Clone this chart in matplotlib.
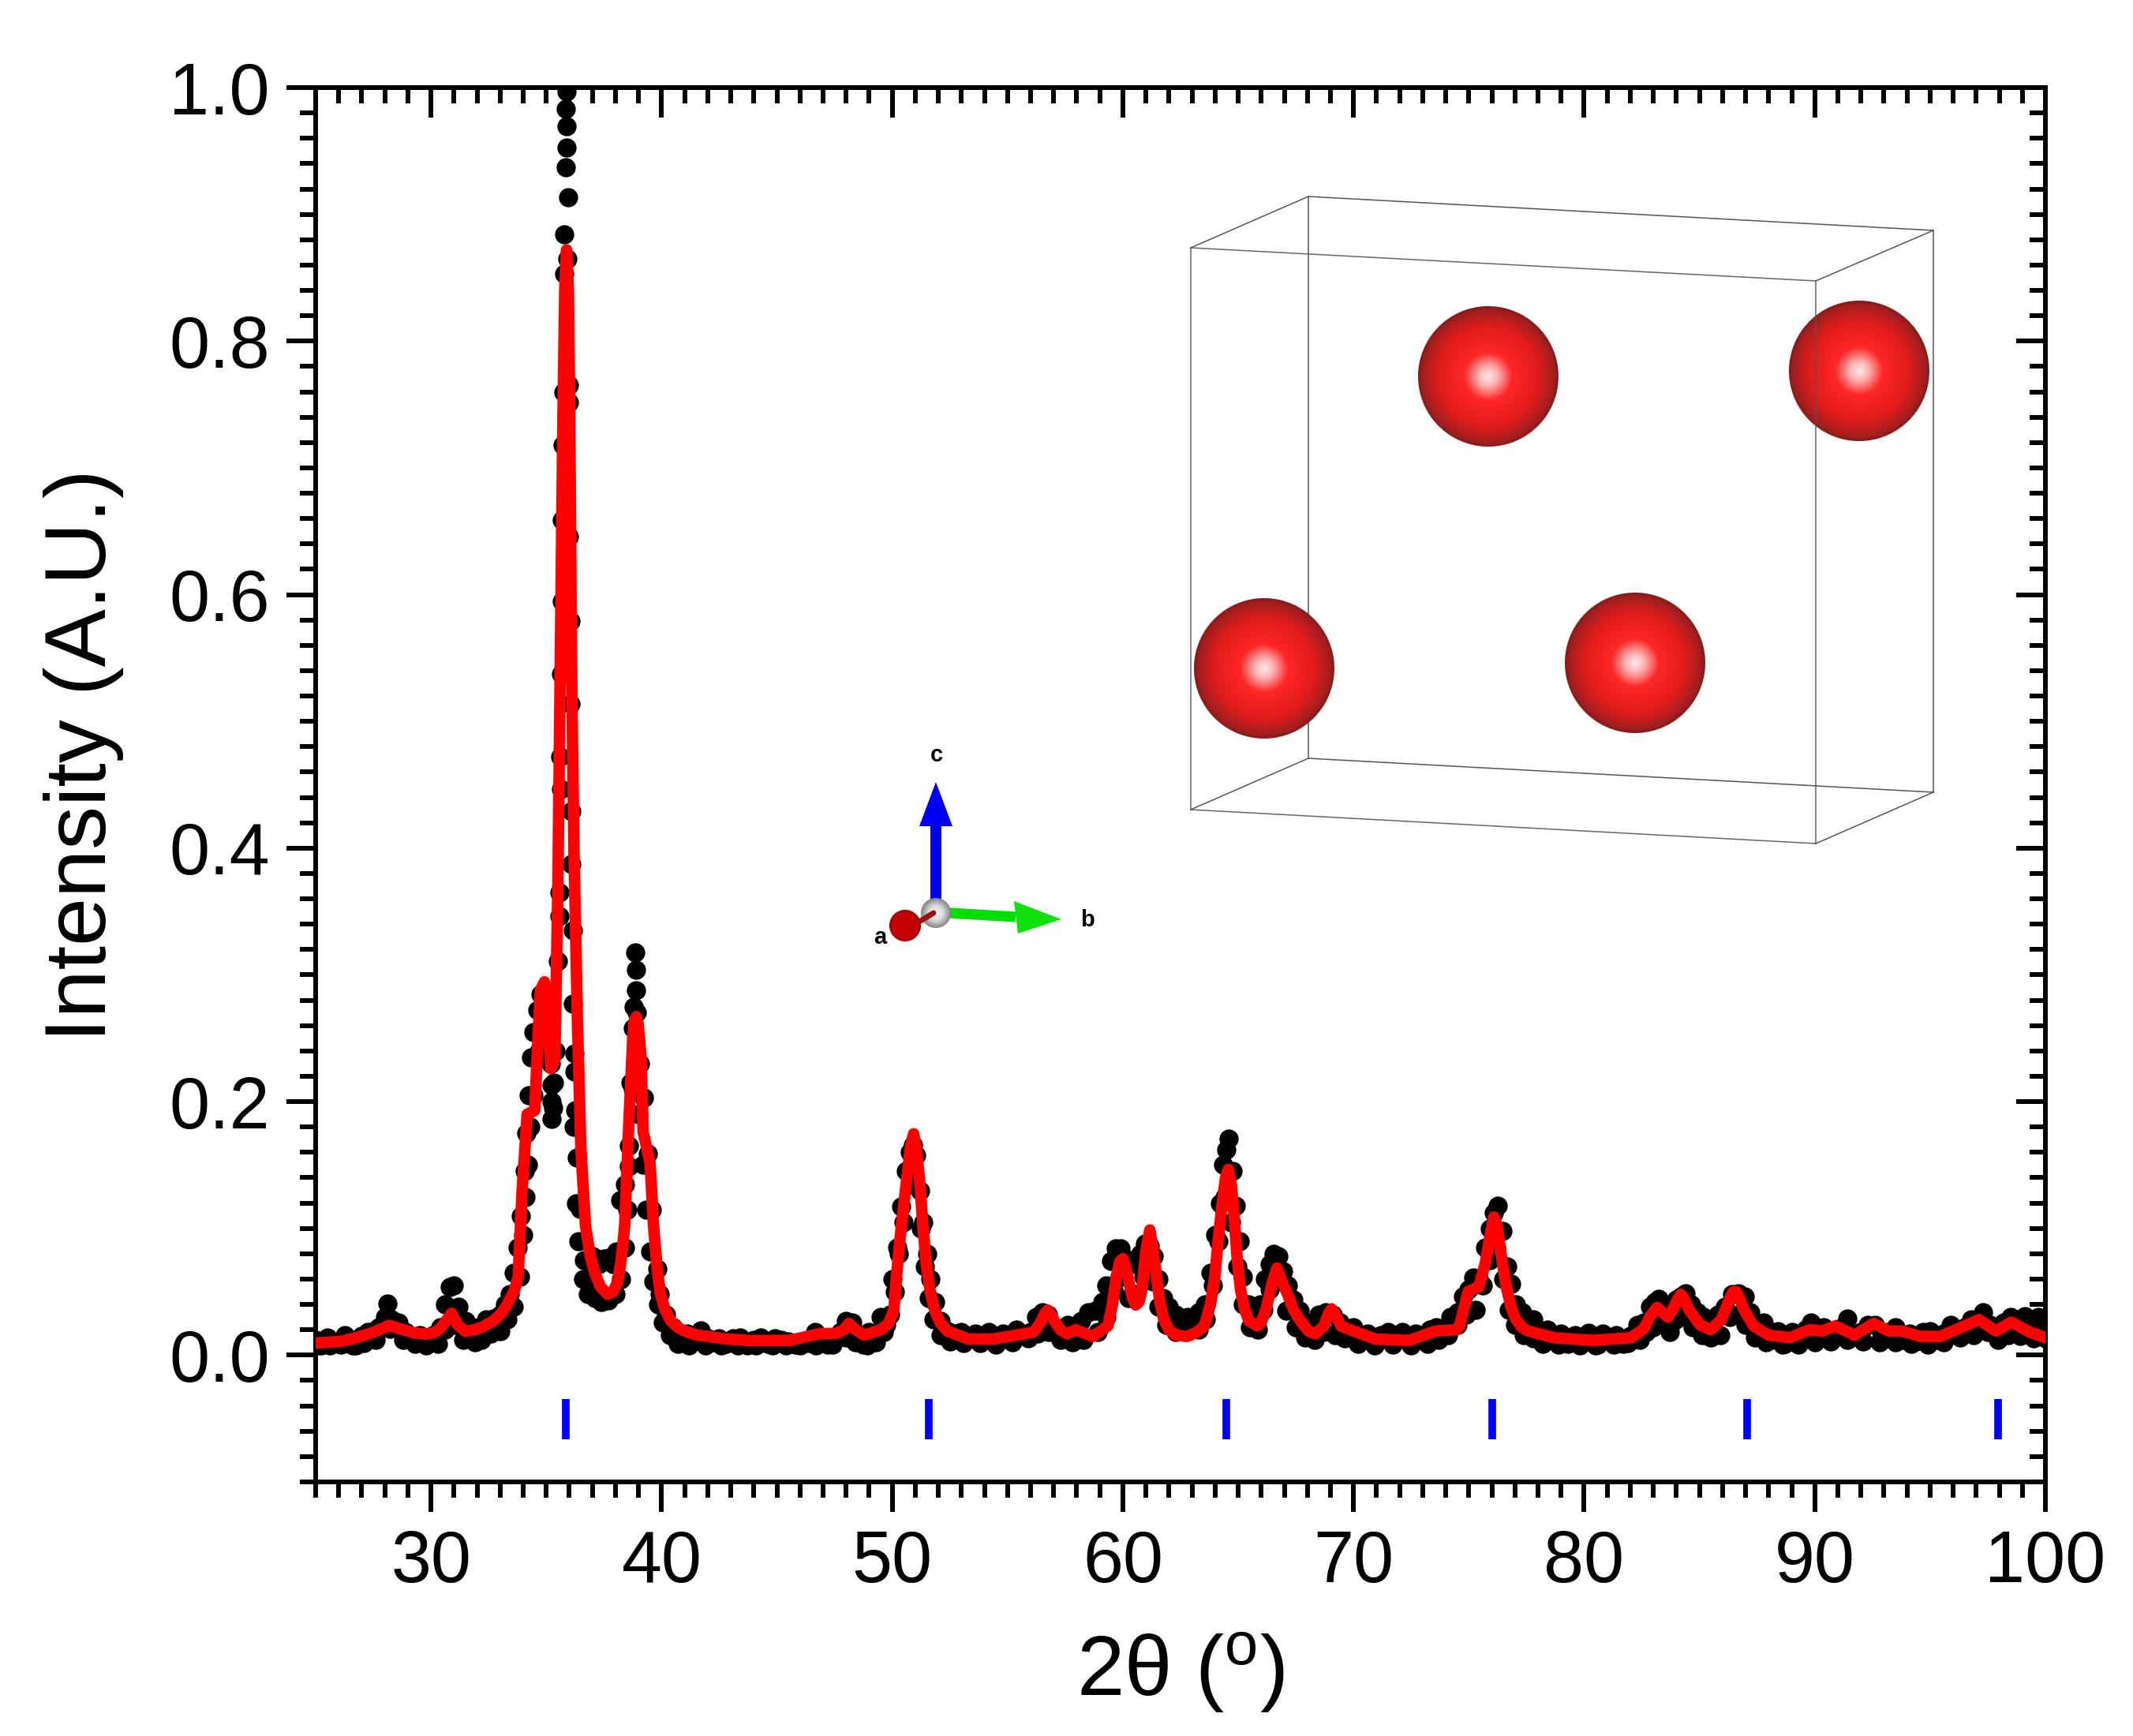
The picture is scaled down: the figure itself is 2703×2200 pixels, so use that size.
import numpy as np
import matplotlib
matplotlib.use("Agg")
import matplotlib.pyplot as plt
from matplotlib.patches import Polygon
from matplotlib.ticker import MultipleLocator

plt.rcParams["font.family"] = ["Liberation Sans", "DejaVu Sans"]
plt.rcParams["mathtext.fontset"] = "custom"
plt.rcParams["mathtext.rm"] = "Liberation Sans"

# --- data: (2 theta, intensity) ---
obs_25_34 = [
    (25.0, .012), (25.25, .008), (25.5, .014), (25.75, .010), (26.0, .009), (26.25, .016), (26.5, .011),
    (26.75, .008), (27.0, .015), (27.25, .018), (27.5, .019), (27.75, .022), (28.0, .030), (28.1, .041),
    (28.3, .028), (28.6, .026), (28.9, .018), (29.2, .014), (29.5, .016), (29.8, .014), (30.1, .016),
    (30.4, .022), (30.6, .040), (30.8, .054), (31.0, .055), (31.2, .038), (31.5, .027), (31.8, .022),
    (32.1, .020), (32.4, .028), (32.7, .029), (33.0, .032), (33.2, .040), (33.4, .048), (33.6, .065),
    (33.75, .085), (33.9, .110),
]
obs_main_peak = [
    (34.05, .145), (34.15, .175), (34.25, .205), (34.35, .235), (34.45, .255), (34.6, .272), (34.75, .285),
    (34.95, .280), (35.05, .262), (35.2, .230), (35.23, .2133), (35.23, .1998), (35.23, .1863), (35.3, .195),
    (35.4, .240), (35.51, .311), (35.57, .3464), (35.57, .3653), (35.6, .472), (35.63, .4463), (35.65, .5375),
    (35.68, .5949), (35.68, .659), (35.72, .7178), (35.75, .760), (35.77, .8529), (35.77, .884), (35.85, .937),
    (35.89, .9528), (35.87, .9697), (35.83, .983), (35.89, .9967), (35.96, .9137), (35.92, .865), (36.0, .7651),
    (36.0, .7516), (36.0, .6455), (36.04, .5793), (36.06, .5138), (36.09, .4294), (36.09, .3875), (36.15, .3349),
    (36.17, .2775), (36.23, .238), (36.23, .2235), (36.26, .193), (36.34, .156), (36.46, .1153), (36.63, .0749),
    (36.86, .0613),
]
obs_39_peak = [
    (37.0, .078), (37.3, .072), (37.5, .076), (37.7, .077), (37.9, .072), (38.05, .082), (38.2, .122),
    (38.4, .135), (38.57, .149), (38.65, .215), (38.74, .258), (38.8, .275), (38.86, .318), (38.88, .304),
    (38.9, .288), (38.92, .2707), (39.06, .230), (39.23, .203), (39.4, .159), (39.57, .115), (39.8, .068),
    (39.91, .048), (40.2, .032),
]
obs_40_50 = [
    (40.5, .022), (40.8, .012), (41.1, .017), (41.4, .016), (41.7, .0195), (42.0, .013), (42.25, .010),
    (42.5, .013), (42.8, .009), (43.1, .013), (43.4, .014), (43.7, .008), (44.0, .012), (44.3, .014),
    (44.6, .009), (44.9, .013), (45.2, .012), (45.5, .0105), (45.8, .0085), (46.1, .011), (46.4, .0095),
    (46.65, .0185), (46.9, .0105), (47.2, .0085), (47.5, .012), (47.75, .018), (48.0, .027), (48.25, .026),
    (48.5, .016), (48.75, .0085), (49.0, .0185), (49.25, .014), (49.5, .030), (49.75, .024),
]
obs_50_60 = [
    (50.0, .060), (50.2, .085), (50.4, .117), (50.6, .145), (50.75, .160), (50.9, .166), (51.05, .158),
    (51.2, .130), (51.35, .105), (51.5, .080), (51.65, .060), (51.85, .042), (52.1, .027), (52.4, .019),
    (52.7, .017), (53.0, .018), (53.3, .0125), (53.6, .017), (53.9, .013), (54.2, .018), (54.5, .012),
    (54.8, .017), (55.1, .014), (55.4, .020), (55.7, .017), (56.0, .018), (56.25, .030), (56.5, .034),
    (56.75, .032), (57.0, .022), (57.3, .018), (57.6, .024), (57.9, .016), (58.2, .027), (58.5, .034),
    (58.8, .035), (59.1, .042), (59.3, .055),
]
obs_60_70 = [
    (59.5, .074), (59.7, .084), (59.9, .084), (60.1, .076), (60.3, .072), (60.55, .072), (60.75, .080),
    (60.95, .088), (61.15, .086), (61.35, .078), (61.55, .060), (61.75, .045), (62.0, .038), (62.3, .032),
    (62.55, .026), (62.8, .030), (63.1, .022), (63.3, .034), (63.55, .040), (63.8, .065), (64.0, .095),
    (64.2, .120), (64.35, .150), (64.5, .162), (64.6, .171), (64.75, .145), (64.9, .118), (65.05, .090),
    (65.2, .062), (65.45, .040), (65.7, .032), (65.95, .040), (66.15, .060), (66.35, .072), (66.55, .080),
    (66.75, .078), (66.95, .066), (67.15, .055), (67.4, .044), (67.65, .035), (67.9, .026), (68.2, .026),
    (68.5, .032), (68.8, .034), (69.1, .032), (69.4, .026),
]
obs_70_80 = [
    (69.7, .016), (70.0, .022), (70.3, .012), (70.6, .017), (70.9, .012), (71.2, .016), (71.5, .018),
    (71.8, .012), (72.1, .018), (72.4, .013), (72.7, .017), (73.0, .012), (73.3, .020), (73.6, .022),
    (73.9, .016), (74.2, .030), (74.5, .034), (74.75, .046), (75.0, .052), (75.2, .061), (75.45, .060),
    (75.7, .085), (75.9, .100), (76.1, .112), (76.27, .118), (76.45, .098), (76.65, .070), (76.85, .056),
    (77.05, .040), (77.3, .034), (77.55, .026), (77.8, .028), (78.1, .016), (78.4, .020), (78.7, .012),
    (79.0, .017), (79.3, .009), (79.6, .016), (79.9, .012), (80.2, .0176), (80.5, .008), (80.8, .017),
    (81.1, .012), (81.4, .016), (81.7, .009),
]
obs_80_100 = [
    (82.0, .015), (82.3, .024), (82.6, .026), (82.85, .038), (83.05, .042), (83.25, .0446), (83.5, .036),
    (83.75, .024), (84.0, .044), (84.2, .046), (84.4, .049), (84.65, .040), (84.9, .034), (85.2, .030),
    (85.5, .020), (85.8, .032), (86.1, .038), (86.4, .048), (86.7, .049), (86.95, .046), (87.2, .034),
    (87.5, .022), (87.8, .026), (88.1, .012), (88.4, .019), (88.7, .009), (89.0, .018), (89.3, .012),
    (89.6, .020), (89.85, .0258), (90.1, .016), (90.4, .022), (90.7, .013), (91.0, .021), (91.4, .029),
    (91.7, .015), (92.0, .018), (92.3, .024), (92.6, .024), (92.9, .014), (93.2, .018), (93.5, .022),
    (93.8, .012), (94.1, .017), (94.4, .011), (94.7, .018), (95.0, .019), (95.3, .012), (95.6, .017),
    (95.9, .024), (96.2, .020), (96.5, .022), (96.8, .028), (97.05, .028), (97.3, .034), (97.6, .024),
    (97.9, .014), (98.2, .026), (98.5, .030), (98.8, .018), (99.1, .031), (99.4, .020), (99.7, .030),
    (100.0, .024),
]
# second pass over the same scan: the points along the lower and upper edge of the dotted band and on the flanks
obs_edges_low = [
    (25.1, .008), (25.6, .0075), (26.1, .0085), (26.6, .008), (27.1, .0095), (27.6, .012), (28.2, .021),
    (28.8, .012), (29.3, .009), (29.8, .008), (30.3, .009), (30.6, .020), (31.0, .024), (31.4, .012),
    (31.9, .010), (32.2, .012), (32.6, .017), (33.0, .019), (33.3, .028), (33.6, .038), (33.85, .062),
    (34.0, .095), (34.1, .125), (34.2, .150), (34.3, .180), (34.45, .205), (34.7, .240), (35.35, .215),
    (36.2, .180), (36.3, .120), (36.4, .090), (36.6, .060), (36.8, .048), (37.1, .045), (37.4, .042),
    (37.7, .043), (38.0, .048), (38.25, .060), (38.4, .085), (38.5, .115), (38.6, .165), (38.75, .210),
    (39.0, .190), (39.2, .150), (39.35, .115), (39.5, .082), (39.65, .058), (39.85, .040), (40.05, .026),
    (40.35, .016), (40.7, .009), (41.2, .008), (41.9, .0075), (42.6, .0075), (43.3, .0075), (44.1, .0075),
    (44.8, .0075), (45.4, .0075), (46.0, .008), (46.7, .008), (47.4, .0085), (48.0, .014), (48.4, .010),
    (48.9, .008), (49.3, .010), (49.65, .018), (49.9, .032), (50.1, .050), (50.3, .080), (50.5, .105),
    (50.8, .135), (51.25, .100), (51.42, .070), (51.6, .045), (51.8, .028), (52.1, .016), (52.5, .011),
    (53.1, .0095), (53.8, .0095), (54.5, .0085), (55.2, .010), (55.9, .013), (56.3, .017), (56.8, .018),
    (57.3, .012), (57.8, .010), (58.3, .012), (58.9, .018), (59.3, .030), (59.6, .052), (59.85, .062),
    (60.25, .045), (60.6, .048), (60.9, .062), (61.3, .058), (61.55, .038), (61.9, .024), (62.3, .018),
    (62.8, .019), (63.3, .020), (63.6, .028), (63.9, .055), (64.15, .090), (64.4, .125), (64.7, .105),
    (64.95, .070), (65.2, .040), (65.5, .022), (65.85, .020), (66.1, .036), (66.35, .052), (66.7, .058),
    (67.1, .035), (67.5, .022), (67.9, .014), (68.3, .012), (68.7, .018), (69.2, .016), (69.6, .013),
    (70.2, .009), (70.9, .0075), (71.7, .0085), (72.5, .008), (73.2, .009), (73.7, .012), (74.1, .016),
    (74.5, .024), (74.9, .032), (75.3, .036), (75.6, .055), (75.9, .075), (76.2, .085), (76.5, .060),
    (76.75, .036), (77.0, .024), (77.4, .016), (77.8, .013), (78.2, .009), (78.9, .0085), (79.8, .0075),
    (80.6, .0085), (81.3, .0085), (81.9, .0095), (82.4, .012), (82.7, .018), (83.0, .022), (83.3, .026),
    (83.7, .018), (84.0, .028), (84.3, .032), (84.7, .022), (85.1, .016), (85.5, .014), (85.9, .016),
    (86.3, .030), (86.7, .032), (87.0, .024), (87.4, .014), (87.9, .010), (88.6, .0085), (89.3, .0085),
    (90.0, .010), (90.7, .011), (91.4, .012), (92.1, .011), (92.8, .010), (93.5, .010), (94.2, .009),
    (94.9, .0085), (95.6, .010), (96.3, .014), (96.9, .016), (97.5, .018), (97.95, .012), (98.4, .016),
    (98.9, .015), (99.5, .013), (100.0, .013),
]

calc_25_40 = [
    (25.0, .0095), (26.16, .011), (26.9, .0145), (28.2, .0235), (29.8, .0166), (30.4, .021), (30.9, .033),
    (31.5, .0187), (32.3, .0228), (33.0, .032), (33.45, .045), (33.78, .0617), (33.95, .129), (34.17, .19),
    (34.5, .193), (34.64, .25), (34.75, .288), (34.92, .2945), (35.04, .264), (35.2, .226), (35.37, .233),
    (35.5, .365), (35.6, .534), (35.72, .737), (35.88, .872), (36.02, .737), (36.1, .534), (36.2, .399),
    (36.35, .264), (36.5, .163), (36.7, .102), (37.1, .065), (37.66, .048), (38.1, .058), (38.4, .102),
    (38.58, .183), (38.75, .25), (38.9, .267), (39.1, .237), (39.2, .176), (39.5, .152), (39.65, .102),
    (39.95, .048),
]
calc_40_60 = [
    (40.4, .027), (41.0, .019), (42.7, .013), (43.8, .0115), (45.53, .0116), (46.83, .0168), (47.57, .0172),
    (48.13, .025), (48.78, .0158), (49.5, .020), (50.07, .0355), (50.35, .094), (50.63, .139), (50.93, .1746),
    (51.2, .135), (51.47, .073), (51.84, .0355), (52.4, .019), (53.3, .0127), (54.4, .0127), (56.1, .018),
    (56.48, .027), (56.75, .0355), (57.03, .027), (57.59, .0168), (57.96, .020), (58.7, .0147), (59.35, .023),
    (59.72, .0625),
]
calc_60_80 = [
    (60.0, .076), (60.28, .056), (60.56, .0396), (60.83, .052), (61.17, .0988), (61.45, .0625), (61.76, .029),
    (62.3, .0158), (62.78, .0147), (63.53, .023), (63.99, .0625), (64.27, .114), (64.58, .1465), (64.82, .11),
    (65.1, .052), (65.47, .027), (65.84, .023), (66.2, .0355), (66.68, .0687), (67.14, .048), (67.7, .027),
    (68.35, .0168), (68.72, .023), (69.05, .0365), (69.46, .023), (70.0, .019), (70.95, .0127), (72.43, .0116),
    (73.55, .019), (74.47, .020), (74.6, .023), (74.97, .05), (75.44, .054), (75.72, .073), (76.09, .109),
    (76.37, .083), (76.65, .052), (77.02, .029), (77.58, .019), (78.7, .0137),
]
calc_80_100 = [
    (80.37, .0116), (82.04, .0137), (82.6, .021), (82.88, .031), (83.16, .0376), (83.63, .030), (83.9, .0376),
    (84.19, .048), (84.56, .0355), (85.02, .024), (85.49, .020), (85.95, .028), (86.33, .045), (86.6, .05),
    (86.88, .0376), (87.35, .023), (88.0, .0158), (88.93, .0137), (89.77, .020), (90.33, .019), (90.88, .023),
    (91.72, .0158), (92.56, .025), (93.21, .019), (93.77, .019), (94.6, .0147), (95.44, .0147), (96.37, .022),
    (97.12, .028), (97.86, .019), (98.52, .026), (99.35, .018), (100.0, .0137),
]
# extra readings on the rounded parts of the fit
calc_round = [
    (27.5, .018), (28.7, .0205), (29.3, .0175), (30.15, .0178), (30.65, .027), (31.15, .024), (31.9, .020),
    (32.7, .027), (33.25, .038), (33.62, .051), (35.8, .84), (35.96, .84), (36.9, .079), (37.35, .054),
    (37.9, .050), (38.25, .075), (38.82, .264), (38.98, .262), (39.8, .070), (40.15, .036), (40.7, .022),
    (41.5, .016), (47.9, .020), (48.35, .021), (49.85, .025), (50.2, .065), (50.5, .118), (50.8, .165),
    (51.05, .162), (51.33, .102), (51.65, .050), (52.1, .025), (56.3, .022), (56.62, .033), (56.9, .032),
    (57.3, .020), (59.55, .040), (59.88, .074), (60.12, .070), (60.42, .045), (60.7, .042), (61.0, .082),
    (61.3, .085), (61.6, .043), (62.0, .020), (63.2, .018), (63.8, .040), (64.13, .090), (64.45, .140),
    (64.7, .135), (64.95, .078), (65.28, .036), (66.0, .026), (66.45, .055), (66.9, .058), (67.4, .036),
    (68.05, .019), (68.9, .032), (69.22, .032), (75.2, .052), (75.9, .092), (76.23, .102), (76.5, .068),
    (76.83, .038), (77.3, .022), (84.05, .044), (84.35, .044), (86.47, .050), (86.74, .045),
]

bragg_positions = [35.86, 51.6, 64.5, 76.03, 87.05, 97.96]
bragg_low, bragg_high = -.0664, -.0347

y_major_ticks = [0.0, 0.2, 0.4, 0.6, 0.8, 1.0]
x_major_ticks = [30, 40, 50, 60, 70, 80, 90, 100]

# inset drawing, in picture pixels
box_front = [(1509, 314), (2301, 356), (2301, 1069), (1509, 1026)]
box_back = [(1658, 249), (2450, 292), (2450, 1004), (1658, 961)]
atoms = [(1886, 477), (2356, 470), (1602, 847), (2072, 840)]

W, H = 2703, 2200
fig = plt.figure(figsize=(W / 100, H / 100), dpi=100)
ax = fig.add_axes([400 / W, (H - 1878) / H, (2592 - 400) / W, (1878 - 111) / H])

obs = np.array(obs_25_34 + obs_main_peak + obs_39_peak + obs_40_50 + obs_50_60 + obs_60_70 + obs_70_80 + obs_80_100 + obs_edges_low)
calc = np.array(calc_25_40 + calc_40_60 + calc_60_80 + calc_80_100 + calc_round)
calc = calc[np.argsort(calc[:, 0])]

ax.plot(obs[:, 0], obs[:, 1], "o", color="black", ms=17.5, mew=0, zorder=2)
ax.plot(calc[:, 0], calc[:, 1], color="#ff0000", lw=10.5, solid_joinstyle="round", zorder=3)
ax.vlines(bragg_positions, bragg_low, bragg_high, colors="#0000ff", lw=7, capstyle="butt", zorder=3)

ax.set_xlim(25, 100)
ax.set_ylim(-0.1, 1.0)
ax.set_xticks(x_major_ticks)
ax.set_yticks(y_major_ticks)
ax.set_yticklabels([f"{v:.1f}" for v in y_major_ticks])
ax.xaxis.set_minor_locator(MultipleLocator(1))
ax.yaxis.set_minor_locator(MultipleLocator(0.02))

ax.tick_params(which="major", length=27, width=4.3, direction="out", labelsize=66)
ax.tick_params(which="minor", length=14.5, width=4.3, direction="out")
ax.tick_params(axis="x", which="major", pad=16)
ax.tick_params(axis="y", which="major", pad=15)
for spine in ax.spines.values():
    spine.set_linewidth(4.3)

# top and right ticks point inwards
top = ax.secondary_xaxis("top")
top.set_xticks(x_major_ticks)
top.xaxis.set_minor_locator(MultipleLocator(1))
top.set_xticklabels([])
top.tick_params(which="major", length=27, width=4.3, direction="in")
top.tick_params(which="minor", length=14.5, width=4.3, direction="in")
right = ax.secondary_yaxis("right")
right.set_yticks(y_major_ticks)
right.yaxis.set_minor_locator(MultipleLocator(0.02))
right.set_yticklabels([])
right.tick_params(which="major", length=27, width=4.3, direction="in")
right.tick_params(which="minor", length=14.5, width=4.3, direction="in")
top.spines["top"].set_linewidth(4.3)
right.spines["right"].set_linewidth(4.3)

fig.text(106 / W, 1 - 957 / H, "Intensity (A.U.)", rotation=90, fontsize=79, ha="center", va="center")
fig.text(1496 / W, 1 - 2120 / H, "2θ ($\\mathrm{^{o}}$)", fontsize=78, ha="center", va="center")

# overlay in pixel coordinates for the crystal inset
ov = fig.add_axes([0, 0, 1, 1], zorder=5)
ov.patch.set_alpha(0)
ov.axis("off")


def sphere(cx, cy, r, stops, zorder=3):
    n = 2 * r + 1
    yy, xx = np.mgrid[-1:1:n * 1j, -1:1:n * 1j]
    d = np.hypot(xx, yy)
    pos = [s[0] for s in stops]
    img = np.zeros((n, n, 4))
    for i in range(3):
        img[..., i] = np.interp(d, pos, [s[1][i] / 255 for s in stops])
    img[..., 3] = np.clip((1 - d) * r, 0, 1)
    ov.imshow(img, extent=(cx - r, cx + r, cy + r, cy - r), aspect="auto", zorder=zorder, interpolation="bilinear")


red_stops = [(0, (255, 235, 235)), (0.14, (255, 175, 175)), (0.34, (255, 38, 38)), (0.7, (226, 28, 28)),
             (0.93, (165, 30, 30)), (1, (125, 28, 28))]
grey_stops = [(0, (250, 250, 250)), (0.5, (215, 215, 215)), (1, (125, 125, 125))]

box_color = "#555555"
for a, b in [(box_back[0], box_back[1]), (box_back[1], box_back[2]), (box_back[2], box_back[3]), (box_back[3], box_back[0]),
             (box_front[0], box_back[0]), (box_front[1], box_back[1]), (box_front[2], box_back[2]), (box_front[3], box_back[3])]:
    ov.plot([a[0], b[0]], [a[1], b[1]], color=box_color, lw=1.1, zorder=2)
for cx, cy in atoms:
    sphere(cx, cy, 90, red_stops)
for i in range(4):
    a, b = box_front[i], box_front[(i + 1) % 4]
    ov.plot([a[0], b[0]], [a[1], b[1]], color=box_color, lw=1.1, zorder=4, alpha=0.9)

# orientation triad
ov.add_patch(Polygon([(1179, 1047), (1193, 1047), (1193, 1140), (1179, 1140)], fc="#0000e6", ec="none", zorder=3))
ov.add_patch(Polygon([(1165, 1047), (1207, 1047), (1186, 991)], fc="#0000f0", ec="none", zorder=3))
ov.plot([1203, 1287], [1157, 1162], color="#00e000", lw=9.5, solid_capstyle="butt", zorder=3)
ov.add_patch(Polygon([(1285, 1142), (1290, 1183), (1345, 1165)], fc="#10e010", ec="none", zorder=3))
sphere(1147, 1173, 21, [(0, (200, 0, 0)), (0.8, (195, 0, 0)), (1, (140, 0, 0))], zorder=3)
sphere(1186, 1157, 20, grey_stops, zorder=4)
ov.plot([1165, 1183], [1168, 1157], color="#a01010", lw=5, solid_capstyle="round", zorder=5)
for label, lx, ly in [("c", 1187, 957), ("b", 1378, 1166), ("a", 1115, 1188)]:
    ov.text(lx, ly, label, fontsize=21, fontweight="bold", ha="center", va="center", zorder=5)

ov.set_xlim(0, W)
ov.set_ylim(H, 0)

fig.savefig("out.png", dpi=100, facecolor="white")
